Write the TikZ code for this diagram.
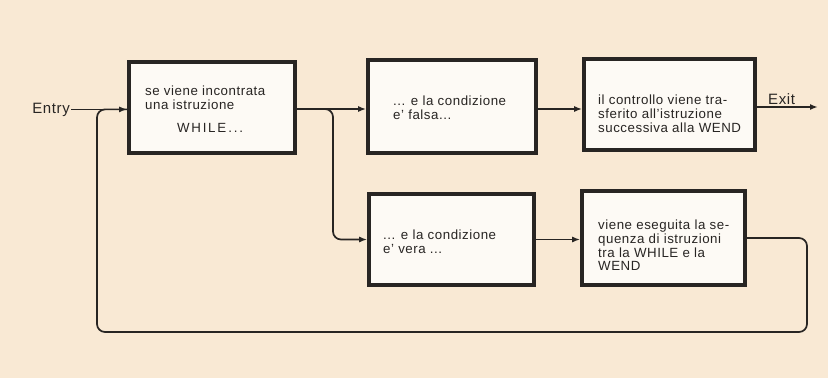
\documentclass[tikz,border=0pt]{standalone}
\usepackage{fontspec}
\setmainfont{Liberation Sans}[LetterSpace=4]
\usepackage{tikz}
\usetikzlibrary{arrows.meta}
\definecolor{paper}{RGB}{249,233,212}
\definecolor{boxfill}{RGB}{253,250,245}
\definecolor{ink}{RGB}{40,37,35}

\begin{document}
\begin{tikzpicture}[x=1pt, y=-1pt, >={Latex[length=8pt,width=6pt]},
  box/.style={draw=ink, line width=3.6pt, fill=boxfill},
  txt/.style={anchor=north west, align=left, inner sep=0pt, text=ink,
              font=\fontsize{13.3}{13.6}\selectfont},
  lbl/.style={inner sep=1pt, text=ink, font=\fontsize{15}{17}\selectfont},
  flow/.style={draw=ink, line width=1.7pt, rounded corners=8pt}]
  \fill[paper] (0,0) rectangle (828,378);
  \useasboundingbox (0,0) rectangle (828,378);
  % boxes
  \node[box, minimum width=166pt, minimum height=91pt] (incontra) at (212,107.5) {};
  \node[box, minimum width=168pt, minimum height=93pt] (falsa) at (452,106.5) {};
  \node[box, minimum width=171pt, minimum height=91pt] (esce) at (669.5,104.5) {};
  \node[box, minimum width=165pt, minimum height=91pt] (vera) at (451.5,239.5) {};
  \node[box, minimum width=163pt, minimum height=94pt] (esegue) at (663.5,238) {};
  % texts
  \node[txt] (t1) at (145,86) {se viene incontrata\\una istruzione\\[9.5pt]
        \hspace*{32pt}\addfontfeature{LetterSpace=13}WHILE\,...};
  \node[txt] (t2) at (393,96) {... e la condizione\\e' falsa...};
  \node[txt] (t3) at (598,95) {il controllo viene tra-\\sferito all'istruzione\\successiva alla WEND};
  \node[txt] (t4) at (383,230) {... e la condizione\\e' vera ...};
  \node[txt] (t5) at (598,220) {viene eseguita la se-\\quenza di istruzioni\\tra la WHILE e la\\WEND};
  \node[lbl, anchor=base east] (entry) at (71,113) {Entry};
  \node[lbl, anchor=base west] (exitlbl) at (767,104) {Exit};
  % connectors
  \coordinate (split) at (333,109);
  \coordinate (exit) at (818,107);
  \coordinate (loopR) at (807,332);
  \coordinate (loopL) at (97,332);
  \draw[flow, ->] (entry.east) -- (entry.east -| incontra.west);
  \draw[flow, ->] (incontra.east |- split) -- (falsa.west |- split);
  \draw[flow, ->] (incontra.east |- split) -- (split) |- (vera.west);
  \draw[flow, ->] (falsa.east |- split) -- (esce.west |- split);
  \draw[flow, ->] (esce.east |- exit) -- (exit);
  \draw[flow, ->] (vera.east) -- (vera.east -| esegue.west);
  \draw[flow] (esegue.east) -| (loopR) -- (loopL) |- (entry.east -| incontra.west);
\end{tikzpicture}
\end{document}
